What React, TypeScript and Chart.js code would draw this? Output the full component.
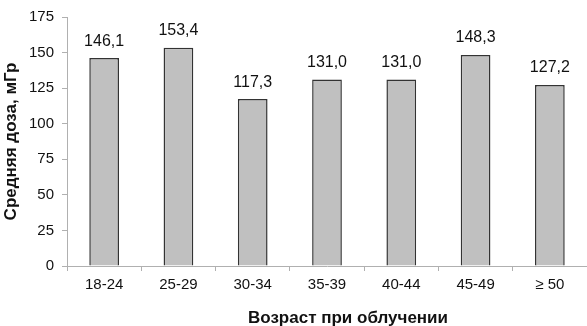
import React, { useEffect, useRef } from "react";
import { Chart, registerables } from "chart.js";

Chart.register(...registerables);

const categories = ["18-24", "25-29", "30-34", "35-39", "40-44", "45-49", "≥ 50"];
const doses = [146.1, 153.4, 117.3, 131.0, 131.0, 148.3, 127.2];
const yTicks = [0, 25, 50, 75, 100, 125, 150, 175];
const yTitle = "Средняя доза, мГр";
const xTitle = "Возраст при облучении";

const FONT = "'Liberation Sans', Arial, sans-serif";

const valueLabels = {
  id: "valueLabels",
  afterDatasetsDraw(chart: any) {
    const ctx = chart.ctx;
    const meta = chart.getDatasetMeta(0);
    ctx.save();
    ctx.font = `16px ${FONT}`;
    ctx.fillStyle = "#111";
    ctx.textAlign = "center";
    ctx.textBaseline = "bottom";
    meta.data.forEach((bar: any, i: number) => {
      ctx.fillText(doses[i].toFixed(1).replace(".", ","), bar.x, bar.y - 9);
    });
    ctx.restore();
  },
};

const xTitlePlugin = {
  id: "xTitlePlugin",
  afterDraw(chart: any) {
    const ctx = chart.ctx;
    const a = chart.chartArea;
    ctx.save();
    ctx.font = `bold 17px ${FONT}`;
    ctx.fillStyle = "#111";
    ctx.textAlign = "center";
    ctx.textBaseline = "middle";
    ctx.fillText(xTitle, (a.left + a.right) / 2 + 21, 318);
    ctx.restore();
  },
};

export default function App() {
  const ref = useRef<HTMLCanvasElement>(null);
  useEffect(() => {
    document.body.style.margin = "0";
    const chart = new Chart(ref.current!, {
      type: "bar",
      data: {
        labels: categories,
        datasets: [
          {
            data: doses,
            backgroundColor: "#c0c0c0",
            borderColor: "#333333",
            borderWidth: 1.5,
            barPercentage: 0.4,
            categoryPercentage: 1,
          },
        ],
      },
      options: {
        animation: false,
        responsive: false,
        devicePixelRatio: 1,
        layout: { padding: { top: 6, right: 0, left: 0, bottom: 0 } },
        plugins: { legend: { display: false }, tooltip: { enabled: false } },
        scales: {
          x: {
            grid: {
              display: true,
              drawOnChartArea: false,
              drawTicks: true,
              tickLength: 5,
              color: "#b0b0b0",
            },
            border: { color: "#b0b0b0", width: 1 },
            ticks: { color: "#111", font: { family: FONT, size: 15 }, padding: 5 },
            afterFit(scale: any) {
              scale.height = 60;
            },
          },
          y: {
            min: 0,
            max: 175,
            afterBuildTicks(scale: any) {
              scale.ticks = yTicks.map((v) => ({ value: v }));
            },
            grid: {
              display: true,
              drawOnChartArea: false,
              drawTicks: true,
              tickLength: 5,
              color: "#b0b0b0",
            },
            border: { color: "#b0b0b0", width: 1 },
            ticks: { color: "#111", font: { family: FONT, size: 15 }, padding: 8 },
            title: {
              display: true,
              text: yTitle,
              color: "#111",
              font: { family: FONT, size: 17, weight: "bold" },
              padding: { top: 1, bottom: 0 },
            },
            afterFit(scale: any) {
              scale.width = 67;
            },
          },
        },
      },
      plugins: [valueLabels, xTitlePlugin],
    });
    return () => chart.destroy();
  }, []);
  return <canvas ref={ref} width={587} height={326} style={{ display: "block" }} />;
}
